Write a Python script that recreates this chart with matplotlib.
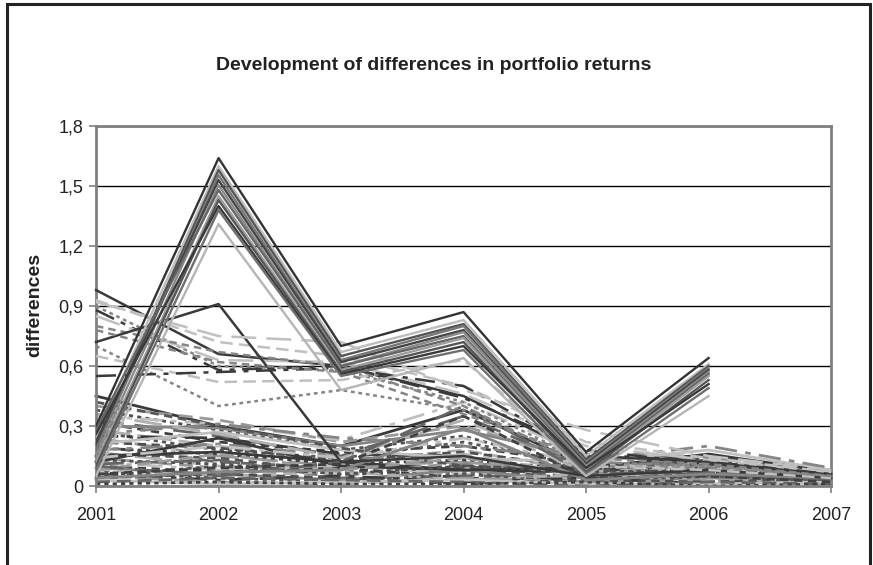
import matplotlib.pyplot as plt
from matplotlib.patches import Rectangle
from matplotlib.ticker import FuncFormatter

# Data
years = [2001, 2002, 2003, 2004, 2005, 2006, 2007]

# solid lines with the big 2002 peak (no value for 2007)
peak_lines = [
    [0.30, 1.64, 0.70, 0.87, 0.17, 0.64],
    [0.25, 1.60, 0.67, 0.83, 0.15, 0.61],
    [0.20, 1.58, 0.65, 0.81, 0.13, 0.60],
    [0.18, 1.555, 0.63, 0.80, 0.12, 0.59],
    [0.22, 1.53, 0.62, 0.78, 0.11, 0.58],
    [0.15, 1.505, 0.60, 0.77, 0.10, 0.57],
    [0.28, 1.48, 0.60, 0.75, 0.09, 0.56],
    [0.12, 1.45, 0.58, 0.74, 0.08, 0.55],
    [0.10, 1.43, 0.57, 0.72, 0.07, 0.53],
    [0.26, 1.40, 0.56, 0.70, 0.09, 0.51],
    [0.08, 1.38, 0.55, 0.68, 0.06, 0.49],
    [0.05, 1.31, 0.48, 0.64, 0.05, 0.45],
]

# lines starting high in 2001 and falling
mid_lines = [
    [0.98, 0.66, 0.60, 0.45, 0.15, 0.12, 0.06],
    [0.93, 0.72, 0.65, 0.50, 0.22, 0.14, 0.07],
    [0.90, 0.60, 0.58, 0.42, 0.12, 0.10, 0.05],
    [0.88, 0.58, 0.60, 0.44, 0.18, 0.11, 0.06],
    [0.85, 0.63, 0.62, 0.46, 0.20, 0.13, 0.07],
    [0.80, 0.67, 0.60, 0.40, 0.10, 0.09, 0.05],
    [0.72, 0.91, 0.12, 0.15, 0.05, 0.08, 0.04],
    [0.65, 0.52, 0.53, 0.63, 0.10, 0.08, 0.04],
    [0.70, 0.40, 0.48, 0.38, 0.12, 0.10, 0.05],
    [0.55, 0.57, 0.59, 0.50, 0.16, 0.12, 0.06],
    [0.92, 0.75, 0.72, 0.48, 0.28, 0.15, 0.08],
    [0.78, 0.62, 0.57, 0.36, 0.14, 0.11, 0.05],
]

# the crowd of small differences
low_lines = [
    [0.45, 0.30, 0.20, 0.38, 0.10, 0.12, 0.05],
    [0.40, 0.33, 0.22, 0.30, 0.12, 0.10, 0.06],
    [0.38, 0.28, 0.18, 0.25, 0.08, 0.14, 0.04],
    [0.35, 0.31, 0.23, 0.42, 0.15, 0.11, 0.07],
    [0.33, 0.25, 0.15, 0.35, 0.09, 0.13, 0.05],
    [0.32, 0.22, 0.17, 0.20, 0.11, 0.09, 0.06],
    [0.30, 0.29, 0.20, 0.28, 0.14, 0.15, 0.08],
    [0.28, 0.20, 0.12, 0.18, 0.07, 0.08, 0.03],
    [0.27, 0.18, 0.14, 0.22, 0.10, 0.12, 0.05],
    [0.25, 0.24, 0.16, 0.15, 0.06, 0.07, 0.04],
    [0.24, 0.15, 0.10, 0.12, 0.05, 0.10, 0.06],
    [0.22, 0.19, 0.13, 0.17, 0.09, 0.06, 0.03],
    [0.21, 0.27, 0.18, 0.14, 0.12, 0.18, 0.08],
    [0.20, 0.12, 0.09, 0.10, 0.04, 0.05, 0.02],
    [0.19, 0.16, 0.11, 0.13, 0.08, 0.09, 0.05],
    [0.18, 0.21, 0.15, 0.11, 0.10, 0.14, 0.07],
    [0.17, 0.10, 0.08, 0.16, 0.05, 0.04, 0.03],
    [0.16, 0.14, 0.07, 0.09, 0.03, 0.07, 0.04],
    [0.15, 0.17, 0.12, 0.08, 0.07, 0.11, 0.06],
    [0.14, 0.09, 0.05, 0.12, 0.06, 0.03, 0.02],
    [0.13, 0.11, 0.06, 0.07, 0.02, 0.06, 0.05],
    [0.12, 0.08, 0.10, 0.06, 0.04, 0.08, 0.03],
    [0.11, 0.13, 0.04, 0.05, 0.05, 0.05, 0.04],
    [0.10, 0.07, 0.09, 0.04, 0.03, 0.02, 0.02],
    [0.09, 0.06, 0.03, 0.08, 0.02, 0.04, 0.05],
    [0.08, 0.05, 0.07, 0.03, 0.06, 0.03, 0.01],
    [0.07, 0.04, 0.02, 0.06, 0.01, 0.05, 0.03],
    [0.06, 0.03, 0.05, 0.02, 0.04, 0.01, 0.02],
    [0.05, 0.02, 0.01, 0.04, 0.02, 0.03, 0.01],
    [0.04, 0.06, 0.04, 0.01, 0.03, 0.02, 0.04],
    [0.03, 0.01, 0.02, 0.03, 0.01, 0.01, 0.02],
    [0.02, 0.04, 0.03, 0.02, 0.00, 0.02, 0.01],
    [0.01, 0.02, 0.01, 0.01, 0.02, 0.00, 0.01],
    [0.26, 0.31, 0.24, 0.20, 0.13, 0.20, 0.09],
    [0.36, 0.26, 0.14, 0.33, 0.07, 0.10, 0.04],
    [0.42, 0.30, 0.19, 0.10, 0.08, 0.06, 0.03],
    [0.12, 0.24, 0.10, 0.08, 0.09, 0.16, 0.07],
    [0.08, 0.16, 0.08, 0.14, 0.05, 0.12, 0.06],
    [0.05, 0.10, 0.06, 0.10, 0.07, 0.08, 0.05],
    [0.14, 0.20, 0.14, 0.24, 0.11, 0.09, 0.04],
    [0.10, 0.05, 0.12, 0.40, 0.06, 0.07, 0.03],
    [0.06, 0.09, 0.11, 0.35, 0.04, 0.05, 0.02],
    [0.04, 0.07, 0.08, 0.29, 0.03, 0.06, 0.04],
]

plt.rcParams['font.family'] = ['Liberation Sans', 'DejaVu Sans']

grays = ['#3a3a3a', '#9a9a9a', '#4f4f4f', '#c0c0c0', '#656565', '#404040', '#858585', '#b0b0b0', '#555555']
dashes = ['-', (0, (5, 2.5)), (0, (1.5, 1.5)), (0, (8, 3, 2, 3)), (0, (10, 4)), (0, (3, 2))]

fig = plt.figure(figsize=(8.73, 5.65), dpi=100)
ax = fig.add_axes([0.110, 0.1398, 0.842, 0.637])

for i, vals in enumerate(low_lines):
    ax.plot(years, vals, color=grays[i % len(grays)], linestyle=dashes[i % len(dashes)],
            linewidth=2.0, clip_on=False, zorder=2)

for i, vals in enumerate(mid_lines):
    ax.plot(years, vals, color=grays[(i * 3) % len(grays)], linestyle=dashes[i % len(dashes)],
            linewidth=1.8, clip_on=False, zorder=3)

peak_colors = ['#333333', '#bdbdbd', '#555555', '#777777', '#444444', '#8a8a8a',
               '#666666', '#9d9d9d', '#555555', '#3a3a3a', '#6f6f6f', '#b5b5b5']
for i, vals in enumerate(peak_lines):
    ax.plot(years[:6], vals, color=peak_colors[i], linestyle='-', linewidth=1.7, zorder=4)

ax.set_xlim(2001, 2007)
ax.set_ylim(0, 1.8)
ax.set_xticks(years)
ax.set_yticks([0, 0.3, 0.6, 0.9, 1.2, 1.5, 1.8])
ax.yaxis.set_major_formatter(FuncFormatter(lambda v, p: ('%g' % round(v, 1)).replace('.', ',')))
ax.grid(axis='y', color='black', linewidth=1)
ax.set_axisbelow(True)
for s in ax.spines.values():
    s.set_color('#808080')
    s.set_linewidth(2)
ax.tick_params(axis='both', direction='out', color='#808080', length=5, width=1.2,
               labelsize=13, labelcolor='#222222')
ax.tick_params(axis='x', pad=10)
ax.tick_params(axis='y', pad=4)

fig.text(0.497, 0.884, 'Development of differences in portfolio returns', ha='center',
         va='center', fontsize=14, fontweight='bold', color='#222222')
fig.text(0.040, 0.46, 'differences', rotation=90, ha='center', va='center',
         fontsize=14, fontweight='bold', color='#222222')

# outer chart border (bottom edge falls outside the picture)
fig.patches.append(Rectangle((0.008, -0.05), 0.989, 1.043, transform=fig.transFigure,
                             fill=False, edgecolor='#222222', linewidth=2.2))

fig.savefig('out.png', dpi=100)
